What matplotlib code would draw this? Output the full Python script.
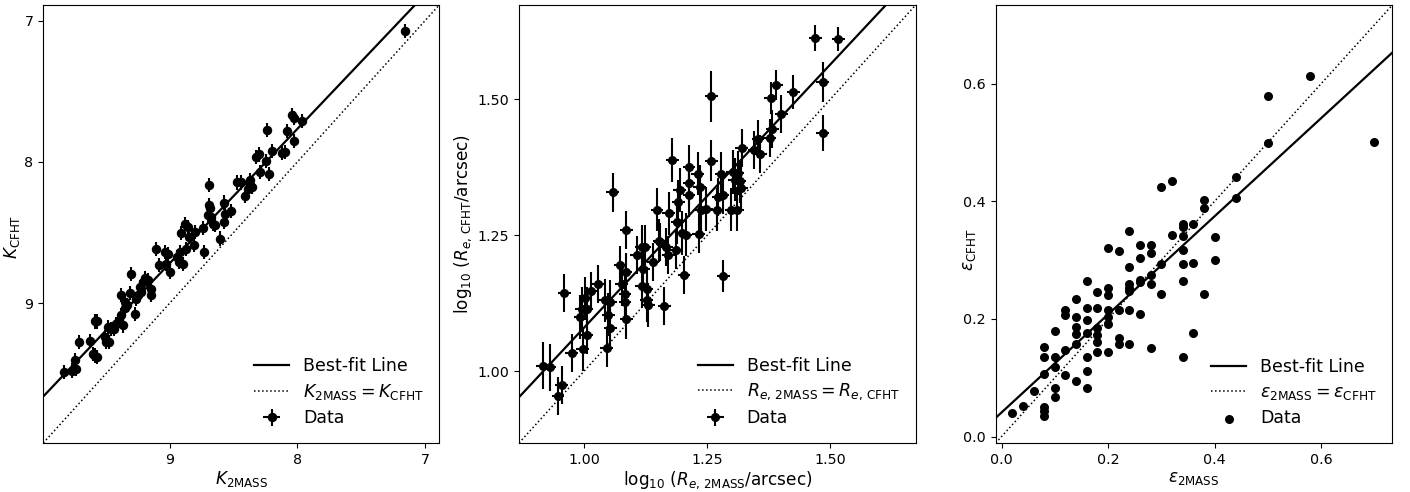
import numpy as np
import matplotlib
matplotlib.use("Agg")
import matplotlib.pyplot as plt

# --- K-band magnitudes (2MASS vs CFHT) ---
k_2mass = [8.043, 8.027, 7.965, 8.239, 8.080, 8.030, 8.200, 8.119, 8.100, 8.327,
           8.301, 8.243, 8.290, 8.225, 8.374, 8.470, 8.440, 8.374, 8.353, 8.388,
           8.408, 8.692, 8.692, 8.687, 8.575, 8.570, 8.518, 8.700, 8.680, 8.645,
           8.658, 8.575, 8.603, 8.739, 8.799, 8.877, 8.857, 8.914, 8.849, 8.810,
           8.734, 8.875, 8.922, 8.940, 8.927, 8.896, 9.104, 9.034, 9.013, 9.086,
           9.026, 9.000, 9.305, 9.196, 9.170, 9.209, 9.143, 9.235, 9.222, 9.249,
           9.378, 9.313, 9.347, 9.331, 9.352, 9.143, 9.261, 9.274, 9.378, 9.399,
           9.418, 9.366, 9.437, 9.483, 9.457, 9.587, 9.566, 9.509, 9.496, 9.475,
           9.621, 9.712, 9.600, 9.587, 9.566, 9.743, 9.769, 9.730, 9.827, 7.156]
k_cfht = [7.669, 7.692, 7.711, 7.775, 7.782, 7.853, 7.924, 7.940, 7.929, 7.965,
          7.948, 7.995, 8.070, 8.087, 8.130, 8.146, 8.146, 8.165, 8.177, 8.189,
          8.243, 8.165, 8.307, 8.330, 8.288, 8.366, 8.350, 8.378, 8.390, 8.449,
          8.437, 8.426, 8.543, 8.468, 8.496, 8.437, 8.461, 8.504, 8.532, 8.591,
          8.638, 8.614, 8.638, 8.674, 8.709, 8.725, 8.614, 8.638, 8.650, 8.728,
          8.721, 8.780, 8.791, 8.820, 8.839, 8.851, 8.903, 8.886, 8.922, 8.945,
          8.940, 8.926, 8.993, 9.016, 9.035, 8.945, 8.969, 9.075, 9.087, 9.123,
          9.146, 9.158, 9.182, 9.170, 9.182, 9.130, 9.130, 9.241, 9.277, 9.277,
          9.265, 9.277, 9.359, 9.371, 9.383, 9.406, 9.477, 9.465, 9.489, 7.071]
k_xerr = 0.02
k_yerr = 0.05
k_fit = (0.952, 0.150)
k_lim = (9.99, 6.89)

# --- log10 effective radius ---
re_2mass = [0.916, 0.931, 0.955, 0.947, 0.960, 0.975, 0.997, 1.005, 0.992, 0.995,
            1.005, 1.002, 1.014, 1.028, 1.043, 1.053, 1.049, 1.053, 1.046, 1.073,
            1.085, 1.076, 1.083, 1.083, 1.086, 1.107, 1.117, 1.123, 1.120, 1.117,
            1.127, 1.127, 1.130, 1.140, 1.154, 1.171, 1.186, 1.163, 1.203, 1.058,
            1.086, 1.152, 1.167, 1.148, 1.172, 1.189, 1.198, 1.206, 1.233, 1.191,
            1.194, 1.179, 1.213, 1.213, 1.213, 1.231, 1.235, 1.278, 1.258, 1.258,
            1.238, 1.248, 1.269, 1.299, 1.311, 1.272, 1.282, 1.302, 1.312, 1.306,
            1.316, 1.319, 1.320, 1.345, 1.358, 1.353, 1.377, 1.382, 1.400, 1.379,
            1.390, 1.425, 1.469, 1.516, 1.484, 1.484, 1.283]
re_cfht = [1.010, 1.007, 0.974, 0.955, 1.143, 1.033, 1.041, 1.066, 1.100, 1.114,
           1.114, 1.134, 1.147, 1.160, 1.130, 1.128, 1.104, 1.079, 1.042, 1.195,
           1.183, 1.160, 1.142, 1.128, 1.095, 1.214, 1.228, 1.229, 1.187, 1.156,
           1.151, 1.131, 1.122, 1.201, 1.238, 1.214, 1.222, 1.120, 1.177, 1.329,
           1.260, 1.240, 1.228, 1.297, 1.290, 1.274, 1.254, 1.251, 1.253, 1.311,
           1.333, 1.388, 1.376, 1.345, 1.323, 1.363, 1.339, 1.362, 1.387, 1.505,
           1.297, 1.298, 1.297, 1.297, 1.297, 1.320, 1.324, 1.366, 1.364, 1.352,
           1.349, 1.337, 1.411, 1.407, 1.400, 1.426, 1.429, 1.445, 1.472, 1.502,
           1.526, 1.513, 1.613, 1.611, 1.532, 1.437, 1.175]
re_yerr = [0.043, 0.043, 0.035, 0.035, 0.035, 0.035, 0.040, 0.035, 0.040, 0.040,
           0.040, 0.040, 0.035, 0.035, 0.040, 0.040, 0.040, 0.035, 0.035, 0.035,
           0.035, 0.040, 0.040, 0.040, 0.035, 0.035, 0.040, 0.040, 0.040, 0.040,
           0.040, 0.040, 0.040, 0.035, 0.035, 0.035, 0.035, 0.035, 0.035, 0.036,
           0.035, 0.040, 0.035, 0.040, 0.040, 0.040, 0.040, 0.040, 0.035, 0.040,
           0.040, 0.040, 0.040, 0.040, 0.040, 0.040, 0.040, 0.040, 0.038, 0.047,
           0.040, 0.040, 0.040, 0.040, 0.040, 0.035, 0.035, 0.040, 0.040, 0.040,
           0.040, 0.040, 0.035, 0.035, 0.035, 0.035, 0.035, 0.035, 0.035, 0.030,
           0.028, 0.032, 0.024, 0.022, 0.037, 0.033, 0.030]
re_xerr = 0.013
re_fit = (0.968, 0.112)
re_lim = (0.868, 1.673)

# --- ellipticity ---
eps_2mass = [0.02, 0.04, 0.06, 0.08, 0.08, 0.08, 0.08, 0.08, 0.08,
             0.10, 0.10, 0.10, 0.10, 0.10, 0.12, 0.12, 0.12, 0.12,
             0.14, 0.14, 0.14, 0.14, 0.14, 0.14,
             0.16, 0.16, 0.16, 0.16, 0.16, 0.16, 0.16,
             0.18, 0.18, 0.18, 0.18, 0.18, 0.18,
             0.20, 0.20, 0.20, 0.20, 0.20, 0.20, 0.20,
             0.22, 0.22, 0.22, 0.22,
             0.24, 0.24, 0.24, 0.24, 0.24, 0.24, 0.24,
             0.26, 0.26, 0.26, 0.26, 0.26,
             0.28, 0.28, 0.28, 0.28, 0.28,
             0.30, 0.30, 0.30, 0.32, 0.32,
             0.34, 0.34, 0.34, 0.34, 0.34, 0.34, 0.34,
             0.36, 0.36, 0.36, 0.38, 0.38, 0.38, 0.40, 0.40,
             0.44, 0.44, 0.50, 0.50, 0.58, 0.70]
eps_cfht = [0.040, 0.052, 0.078, 0.050, 0.044, 0.035, 0.106, 0.136, 0.153,
            0.118, 0.135, 0.180, 0.082, 0.068, 0.148, 0.104, 0.215, 0.206,
            0.234, 0.203, 0.186, 0.174, 0.157, 0.095,
            0.265, 0.219, 0.199, 0.176, 0.135, 0.111, 0.083,
            0.245, 0.218, 0.185, 0.172, 0.160, 0.143,
            0.321, 0.253, 0.241, 0.216, 0.203, 0.191, 0.144,
            0.316, 0.216, 0.167, 0.157,
            0.350, 0.289, 0.259, 0.253, 0.248, 0.215, 0.158,
            0.326, 0.303, 0.267, 0.263, 0.209,
            0.325, 0.312, 0.275, 0.260, 0.151,
            0.424, 0.294, 0.242, 0.434, 0.342,
            0.361, 0.356, 0.341, 0.317, 0.294, 0.265, 0.135,
            0.361, 0.295, 0.176, 0.402, 0.388, 0.243, 0.339, 0.300,
            0.442, 0.405, 0.579, 0.500, 0.614, 0.501]
eps_fit = (0.834, 0.041)
eps_lim = (-0.011, 0.734)

fig = plt.figure(figsize=(14.1, 4.92), dpi=100)
ax1 = fig.add_axes([0.0307, 0.0996, 0.2808, 0.8902])
ax2 = fig.add_axes([0.3681, 0.0996, 0.2813, 0.8902])
ax3 = fig.add_axes([0.7062, 0.0996, 0.2813, 0.8902])

legend_kw = dict(loc="lower right", frameon=False, fontsize=12.5, labelspacing=0.4)
label_fs = 12.2


def draw_lines(ax, fit, lim, one_to_one_label):
    xx = np.array(lim)
    ax.plot(xx, fit[0] * xx + fit[1], color="black", lw=1.6, label="Best-fit Line")
    ax.plot(xx, xx, color="black", ls=":", lw=1.1, label=one_to_one_label)
    ax.set_xlim(lim)
    ax.set_ylim(lim)


# left panel
draw_lines(ax1, k_fit, k_lim, r"$K_{\rm 2MASS} = K_{\rm CFHT}$")
ax1.errorbar(k_2mass, k_cfht, xerr=k_xerr, yerr=k_yerr, fmt="o", color="black",
             ms=5.8, elinewidth=1.5, capsize=0, label="Data")
ax1.set_xticks([9, 8, 7])
ax1.set_yticks([7, 8, 9])
ax1.set_xlabel(r"$K_{\rm 2MASS}$", fontsize=label_fs, labelpad=2)
ax1.set_ylabel(r"$K_{\rm CFHT}$", fontsize=label_fs)
ax1.yaxis.set_label_coords(-0.053, 0.47)
ax1.legend(**legend_kw)

# middle panel
draw_lines(ax2, re_fit, re_lim, r"$R_{e,\,\rm 2MASS} = R_{e,\,\rm CFHT}$")
ax2.errorbar(re_2mass, re_cfht, xerr=re_xerr, yerr=re_yerr, fmt="o", color="black",
             ms=5.5, elinewidth=1.5, capsize=0, label="Data")
ax2.set_xticks([1.0, 1.25, 1.5])
ax2.set_yticks([1.0, 1.25, 1.5])
ax2.set_xticklabels(["1.00", "1.25", "1.50"])
ax2.set_yticklabels(["1.00", "1.25", "1.50"])
ax2.set_xlabel(r"$\log_{10}\,(R_{e,\,\rm 2MASS}/{\rm arcsec})$", fontsize=label_fs, labelpad=2)
ax2.set_ylabel(r"$\log_{10}\,(R_{e,\,\rm CFHT}/{\rm arcsec})$", fontsize=label_fs)
ax2.yaxis.set_label_coords(-0.114, 0.5)
ax2.legend(**legend_kw)

# right panel
draw_lines(ax3, eps_fit, eps_lim, r"$\varepsilon_{\rm 2MASS} = \varepsilon_{\rm CFHT}$")
ax3.scatter(eps_2mass, eps_cfht, s=30, color="black", label="Data")
ax3.set_xticks([0.0, 0.2, 0.4, 0.6])
ax3.set_yticks([0.0, 0.2, 0.4, 0.6])
ax3.set_xlabel(r"$\varepsilon_{\rm 2MASS}$", fontsize=label_fs, labelpad=2)
ax3.set_ylabel(r"$\varepsilon_{\rm CFHT}$", fontsize=label_fs)
ax3.yaxis.set_label_coords(-0.045, 0.44)
ax3.legend(**legend_kw)

for ax in (ax1, ax2, ax3):
    ax.tick_params(labelsize=10.3)

fig.savefig("out.png", dpi=100)
